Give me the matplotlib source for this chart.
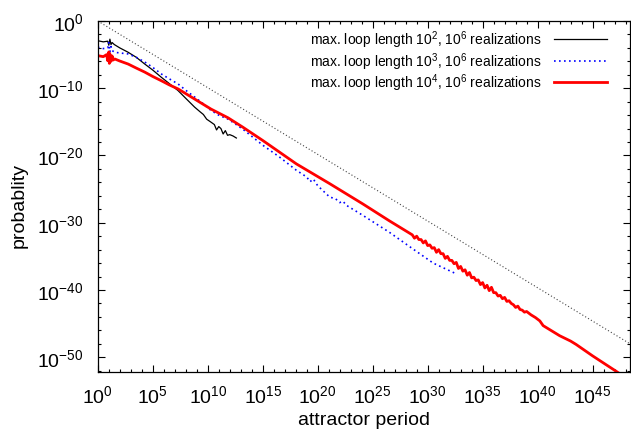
"""Attractor period distribution for three maximum loop lengths (log-log)."""

import matplotlib
matplotlib.use("Agg")
import matplotlib.pyplot as plt
import numpy as np
from matplotlib.ticker import FixedLocator, FuncFormatter, NullFormatter

plt.rcParams["font.family"] = ["Liberation Sans", "DejaVu Sans"]

# values, as log10(x), log10(y)
loop2_logx = [0.0, 0.5, 0.9, 1.0, 1.1, 1.2, 1.3, 1.5, 2.0, 2.76, 3.5, 4.27, 5.0,
              5.8, 6.5, 7.3, 8.0, 8.8, 9.3, 9.6, 9.9, 10.3, 10.6, 10.8, 11.0,
              11.2, 11.4, 11.6, 11.8, 12.0, 12.3, 12.6]
loop2_logy = [-2.93, -3.1, -3.0, -3.6, -2.7, -3.5, -3.2, -3.5, -4.0, -4.65, -5.4,
              -6.4, -7.3, -8.4, -9.3, -10.35, -11.5, -12.8, -13.5, -13.9, -14.6,
              -15.05, -15.4, -16.2, -15.7, -16.0, -16.8, -16.3, -17.0, -16.9,
              -17.1, -17.4]

loop3_logx = [0.0, 0.5, 0.9, 1.0, 1.1, 1.2, 1.3, 1.55, 2.0, 2.76, 3.5, 4.27, 5.0,
              5.8, 6.5, 7.3, 8.0, 8.8, 9.5, 10.3, 11.0, 11.85, 12.5, 13.2, 15.03,
              16.5, 18.06, 19.0, 19.3, 19.6, 20.0, 21.1, 21.6, 22.0, 22.3, 22.6,
              24.1, 26.5, 28.66, 30.5, 32.6]
loop3_logy = [-3.9, -4.1, -4.0, -3.2, -4.6, -3.8, -4.4, -4.65, -4.75, -4.9, -5.4,
              -6.1, -6.9, -7.9, -8.6, -9.36, -10.3, -11.3, -12.2, -13.3, -14.0,
              -14.6, -15.3, -16.1, -18.5, -20.2, -22.2, -23.2, -23.9, -23.5,
              -24.5, -26.2, -26.4, -27.0, -26.8, -27.4, -28.9, -31.4, -33.9,
              -36.0, -37.6]

loop4_logx = [0.0, 0.5, 0.8, 0.9, 1.0, 1.05, 1.1, 1.2, 1.3, 1.4, 1.55, 2.0, 2.76,
              3.5, 4.27, 5.0, 5.8, 6.5, 7.3, 8.0, 8.8, 10.3, 11.85, 13.2, 15.03,
              18.06, 21.1, 24.1, 26.5,
              28.6, 28.8, 29.0, 29.2, 29.4, 29.6, 29.8, 30.0, 30.2, 30.4, 30.6,
              30.8, 31.0, 31.2, 31.4, 31.6, 31.8, 32.0, 32.2, 32.4, 32.6, 32.8,
              33.0, 33.2, 33.4, 33.6, 33.8, 34.0, 34.2, 34.4, 34.6, 34.8, 35.0,
              35.2, 35.4, 35.6, 35.8, 36.0, 36.2, 36.4, 36.6, 36.8, 37.0, 37.2,
              37.4, 37.6, 37.8, 38.0, 38.2, 38.4, 38.6, 38.8, 39.0, 39.4, 39.8,
              40.2, 40.5, 41.0, 42.0, 43.0, 43.5, 45.0, 47.15, 48.4]
loop4_logy = [-5.15, -5.3, -5.0, -5.9, -4.6, -6.3, -4.9, -6.0, -5.2, -5.8, -5.65,
              -5.95, -6.4, -7.0, -7.6, -8.25, -8.9, -9.5, -10.1, -10.8, -11.6,
              -13.1, -14.4, -15.8, -17.8, -21.25, -24.2, -27.2, -29.7,
              -31.8, -32.3, -32.0, -32.5, -32.5, -33.0, -32.7, -33.4, -33.3,
              -33.8, -33.7, -34.4, -34.0, -34.6, -34.6, -35.3, -35.0, -35.6,
              -35.6, -36.1, -35.9, -36.8, -36.5, -37.2, -37.0, -37.8, -37.4,
              -38.2, -38.1, -38.6, -38.5, -39.2, -38.9, -39.7, -39.3, -40.1,
              -39.6, -40.4, -40.4, -40.9, -40.8, -41.3, -41.1, -41.7, -41.6,
              -42.0, -42.2, -42.6, -42.4, -42.9, -43.0, -43.3, -43.2, -43.7,
              -44.1, -44.6, -45.3, -45.8, -46.8, -47.6, -48.1, -49.8, -52.1,
              -53.5]

guide_logx = [0.0, 48.4]
guide_logy = [0.0, -48.0]

labels = [
    r"max. loop length $\mathdefault{10^2}$, $\mathdefault{10^6}$ realizations",
    r"max. loop length $\mathdefault{10^3}$, $\mathdefault{10^6}$ realizations",
    r"max. loop length $\mathdefault{10^4}$, $\mathdefault{10^6}$ realizations",
]

fig = plt.figure(figsize=(6.31, 4.35), dpi=100)
ax = fig.add_axes([0.155, 0.1425, 0.8434, 0.8069])


def pw(vals):
    return np.power(10.0, np.array(vals))


ax.plot(pw(guide_logx), pw(guide_logy), color="#444444", lw=0.8,
        linestyle=(0, (1, 2)))
ax.plot(pw(loop2_logx), pw(loop2_logy), color="black", lw=0.9, label=labels[0])
ax.plot(pw(loop3_logx), pw(loop3_logy), color="blue", lw=1.2,
        linestyle=(0, (1, 2)), label=labels[1])
ax.plot(pw(loop4_logx), pw(loop4_logy), color="red", lw=2.0, label=labels[2])

ax.set_xscale("log")
ax.set_yscale("log")
ax.set_xlim(1.0, 10.0 ** 48.4)
ax.set_ylim(10.0 ** -52.2, 1.0)

ax.xaxis.set_major_locator(FixedLocator([10.0 ** k for k in range(0, 49, 5)]))
ax.xaxis.set_minor_locator(FixedLocator([10.0 ** k for k in range(0, 49)]))
ax.yaxis.set_major_locator(FixedLocator([10.0 ** k for k in range(0, -51, -10)]))
ax.yaxis.set_minor_locator(FixedLocator([10.0 ** k for k in range(0, -53, -2)]))
sci = FuncFormatter(lambda v, _: r"$\mathdefault{10^{%d}}$" % round(np.log10(v)))
ax.xaxis.set_major_formatter(sci)
ax.yaxis.set_major_formatter(sci)
ax.xaxis.set_minor_formatter(NullFormatter())
ax.yaxis.set_minor_formatter(NullFormatter())

ax.tick_params(which="both", direction="in", top=True, right=True, labelsize=14)
ax.tick_params(which="major", length=5, width=0.8)
ax.tick_params(which="minor", length=2.5, width=0.8)
ax.tick_params(axis="x", pad=9)
ax.tick_params(axis="y", pad=10)
for s in ax.spines.values():
    s.set_linewidth(0.9)

ax.set_xlabel("attractor period", fontsize=14, labelpad=3)
ax.set_ylabel("probablity", fontsize=14)
ax.yaxis.set_label_coords(-0.131, 0.476)

ax.legend(loc="upper right", bbox_to_anchor=(0.956, 0.979), frameon=False,
          fontsize=10, markerfirst=False, handlelength=3.75,
          handletextpad=0.9, labelspacing=0.0, borderpad=0.0,
          borderaxespad=0.0)

fig.savefig("out.png", dpi=100)
